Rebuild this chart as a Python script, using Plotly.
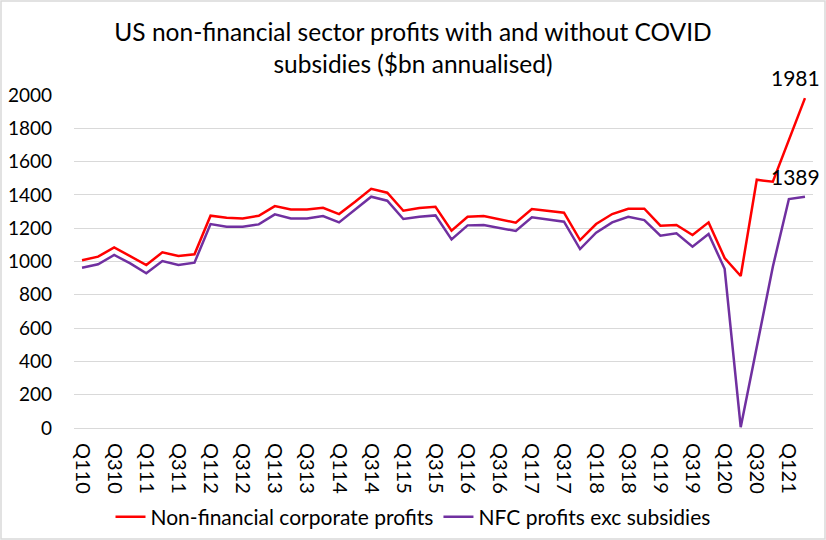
import plotly.graph_objects as go

# quarterly categories, Q1 2010 .. Q2 2021
quarters = ['Q110', 'Q210', 'Q310', 'Q410', 'Q111', 'Q211', 'Q311', 'Q411',
            'Q112', 'Q212', 'Q312', 'Q412', 'Q113', 'Q213', 'Q313', 'Q413',
            'Q114', 'Q214', 'Q314', 'Q414', 'Q115', 'Q215', 'Q315', 'Q415',
            'Q116', 'Q216', 'Q316', 'Q416', 'Q117', 'Q217', 'Q317', 'Q417',
            'Q118', 'Q218', 'Q318', 'Q418', 'Q119', 'Q219', 'Q319', 'Q419',
            'Q120', 'Q220', 'Q320', 'Q420', 'Q121', 'Q221']

# $bn annualised
nfc_profits = [1008, 1029, 1085, 1033, 979, 1055, 1033, 1043,
               1275, 1263, 1259, 1275, 1333, 1313, 1313, 1323,
               1285, 1359, 1437, 1413, 1305, 1321, 1329, 1185,
               1269, 1273, 1253, 1233, 1315, 1305, 1293, 1129,
               1225, 1285, 1317, 1317, 1215, 1219, 1159, 1235,
               1021, 913, 1491, 1479, 1730, 1981]

nfc_ex_subsidies = [963, 983, 1039, 989, 929, 1003, 979, 993,
                    1225, 1209, 1209, 1223, 1283, 1259, 1259, 1273,
                    1235, 1313, 1389, 1365, 1255, 1269, 1277, 1133,
                    1217, 1219, 1199, 1183, 1265, 1253, 1239, 1075,
                    1173, 1235, 1269, 1249, 1155, 1169, 1089, 1165,
                    956, 5, 494, 969, 1375, 1389]

tick_quarters = quarters[::2]

FONT = 'Lato'
RED = '#ff0000'
PURPLE = '#7030a0'
GRID = '#d9d9d9'

fig = go.Figure()
fig.add_trace(go.Scatter(x=quarters, y=nfc_profits, mode='lines',
                         line=dict(color=RED, width=2.5),
                         name='Non-financial corporate profits'))
fig.add_trace(go.Scatter(x=quarters, y=nfc_ex_subsidies, mode='lines',
                         line=dict(color=PURPLE, width=2.5),
                         name='NFC profits exc subsidies'))

# data labels on the last points
for series in (nfc_profits, nfc_ex_subsidies):
    fig.add_annotation(x=quarters[-1], y=series[-1], text=str(series[-1]),
                       showarrow=False, yanchor='bottom', xanchor='right',
                       yshift=6, xshift=17,
                       font=dict(family=FONT, size=21, color='#000000'))

# light frame round the whole chart (as in the excel chart)
pw, ph = 826 - 74 - 13, 540 - 95 - 112
fig.add_shape(type='rect', xref='paper', yref='paper',
              x0=-73 / pw, x1=1 + 12 / pw, y0=-111 / ph, y1=1 + 94 / ph,
              line=dict(color=GRID, width=1.5))

fig.update_layout(
    width=826, height=540,
    margin=dict(l=74, r=13, t=95, b=112, autoexpand=False),
    paper_bgcolor='white', plot_bgcolor='white',
    font=dict(family=FONT, color='#000000'),
    title=dict(text='US non-financial sector profits with and without COVID<br>subsidies ($bn annualised)',
               x=0.5, xanchor='center', y=1 - 20 / 540, yanchor='top',
               font=dict(family=FONT, size=24.5, color='#000000')),
    xaxis=dict(type='category', range=[-0.5, len(quarters) - 0.5],
               tickmode='array', tickvals=tick_quarters, ticktext=tick_quarters,
               tickangle=90, tickfont=dict(size=20), showgrid=False,
               showline=False, ticks='', automargin=False, ticklabelstandoff=14),
    yaxis=dict(range=[0, 2000], dtick=200, tickfont=dict(size=19),
               gridcolor=GRID, gridwidth=1, zeroline=True, zerolinecolor=GRID,
               zerolinewidth=1, showline=False, ticks='', ticklabelstandoff=21,
               automargin=False),
    legend=dict(orientation='h', xref='container', x=0.5, xanchor='center',
                y=-(517 - 428) / ph, yanchor='middle', font=dict(size=21),
                bgcolor='rgba(0,0,0,0)'),
    showlegend=True,
)
fig.update_layout(title_y=1 - 41 / 540)

# the page body has an 8px margin by default; drop it so the chart sits at 0,0
fig.write_html('out.html', config={'displayModeBar': False},
               post_script="document.body.style.margin='0';")
